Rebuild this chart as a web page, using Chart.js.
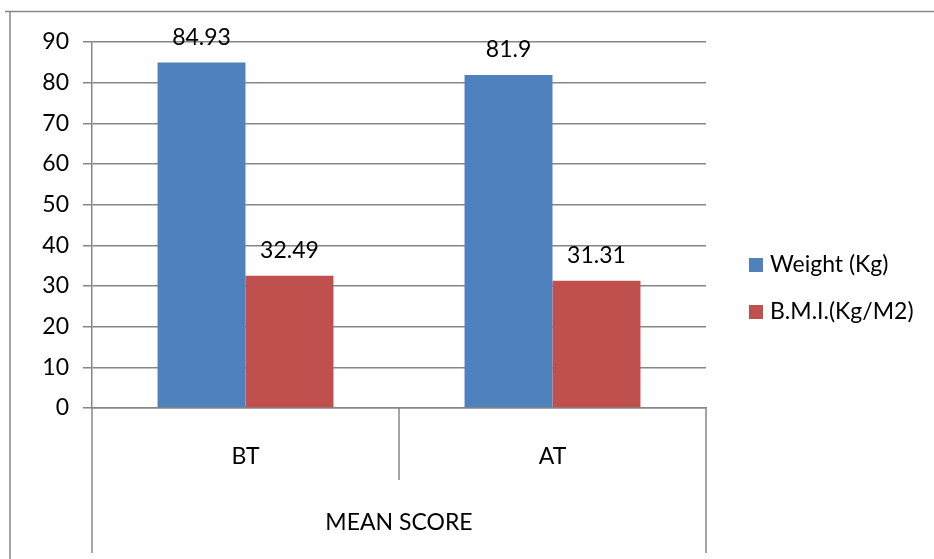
<!DOCTYPE html>
<html>
<head>
<meta charset="utf-8">
<script src="https://cdn.jsdelivr.net/npm/chart.js@4"></script>
<style>
  html, body { margin: 0; padding: 0; background: #fff; }
  #wrap { width: 934px; height: 559px; position: relative; }
</style>
</head>
<body>
<div id="wrap"><canvas id="meanChart"></canvas></div>
<script>
const categories = ['BT', 'AT'];
const seriesNames = ['Weight (Kg)', 'B.M.I.(Kg/M2)'];
const weightValues = [84.93, 81.9];
const bmiValues = [32.49, 31.31];
const groupLabel = 'MEAN SCORE';

const FONT = 'Lato, "Open Sans", sans-serif';
const FSIZE = 23;
const GRID = '#868686';

// multi-level category axis, frame, labels and legend like the Excel original
const excelExtras = {
    id: 'excelExtras',
    afterDraw(chart) {
        const ctx = chart.ctx;
        const x = chart.scales.x;
        const area = chart.chartArea;
        ctx.save();

        // outer frame
        ctx.strokeStyle = GRID;
        ctx.lineWidth = 1.5;
        ctx.beginPath();
        ctx.moveTo(5, 11.5);
        ctx.lineTo(934, 11.5);
        ctx.moveTo(10, 11.5);
        ctx.lineTo(10, 559);
        ctx.stroke();

        // category separators
        const left = x.getPixelForValue(-0.5);
        const mid = x.getPixelForValue(0.5);
        const right = x.getPixelForValue(1.5);
        ctx.beginPath();
        ctx.moveTo(left, area.bottom);
        ctx.lineTo(left, 553);
        ctx.moveTo(mid, area.bottom);
        ctx.lineTo(mid, 480);
        ctx.moveTo(right, area.bottom);
        ctx.lineTo(right, 553);
        ctx.stroke();

        ctx.fillStyle = '#000';
        ctx.font = FSIZE + 'px ' + FONT;
        ctx.textAlign = 'center';
        ctx.textBaseline = 'middle';
        ctx.fillText(groupLabel, (left + right) / 2, 523);

        // value labels
        chart.data.datasets.forEach((ds, i) => {
            chart.getDatasetMeta(i).data.forEach((bar, j) => {
                ctx.textBaseline = 'bottom';
                ctx.fillText(String(ds.data[j]), bar.x, bar.y - 14);
            });
        });

        // legend
        const legendY = [265, 312];
        chart.data.datasets.forEach((ds, i) => {
            ctx.fillStyle = ds.backgroundColor;
            ctx.fillRect(749, legendY[i] - 7, 14, 14);
            ctx.fillStyle = '#000';
            ctx.textAlign = 'left';
            ctx.textBaseline = 'middle';
            ctx.fillText(ds.label, 770, legendY[i]);
        });
        ctx.restore();
    }
};

new Chart(document.getElementById('meanChart').getContext('2d'), {
    type: 'bar',
    data: {
        labels: categories,
        datasets: [
            {
                label: seriesNames[0],
                data: weightValues,
                backgroundColor: '#4F81BD'
            },
            {
                label: seriesNames[1],
                data: bmiValues,
                backgroundColor: '#C0504D'
            }
        ]
    },
    options: {
        responsive: true,
        maintainAspectRatio: false,
        animation: false,
        categoryPercentage: 0.573,
        barPercentage: 1,
        layout: {
            padding: { left: 0, top: 42, right: 228, bottom: 0 }
        },
        plugins: {
            legend: { display: false },
            tooltip: { enabled: false }
        },
        scales: {
            x: {
                grid: { display: false },
                border: { color: GRID, width: 1.5 },
                ticks: {
                    color: '#000',
                    font: { family: FONT, size: FSIZE },
                    padding: 27
                },
                afterFit(scale) { scale.height = 151; }
            },
            y: {
                min: 0,
                max: 90,
                ticks: {
                    stepSize: 10,
                    color: '#000',
                    font: { family: FONT, size: FSIZE },
                    padding: 14
                },
                grid: {
                    color: GRID,
                    lineWidth: 1.5,
                    tickLength: 9
                },
                border: { color: GRID, width: 1.5 },
                afterFit(scale) { scale.width = 92; }
            }
        }
    },
    plugins: [excelExtras]
});
</script>
</body>
</html>
